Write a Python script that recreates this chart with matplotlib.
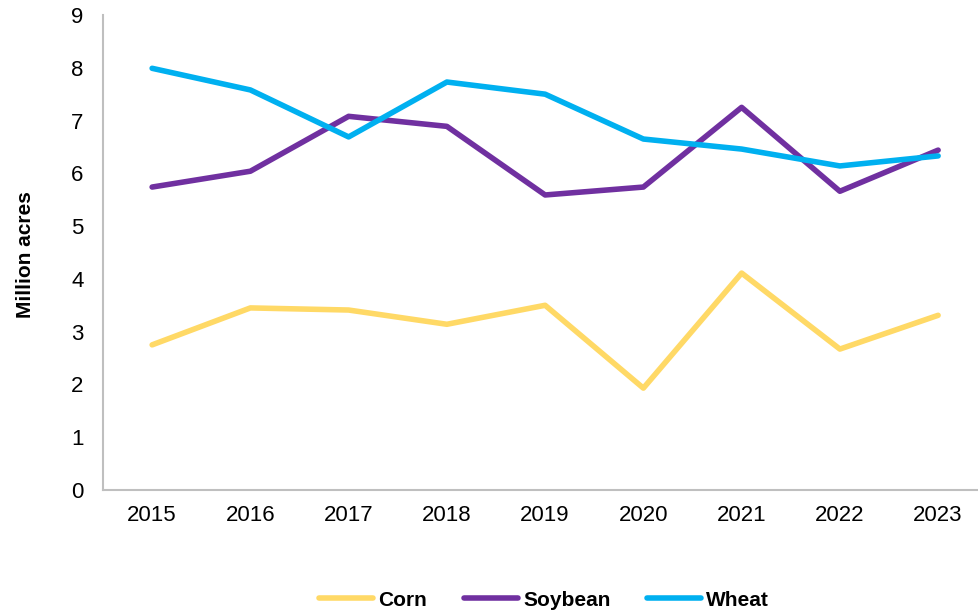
import matplotlib
matplotlib.use('Agg')
import matplotlib.pyplot as plt

plt.rcParams['font.family'] = ['Liberation Sans', 'DejaVu Sans']

years = ['2015', '2016', '2017', '2018', '2019', '2020', '2021', '2022', '2023']
corn = [2.75, 3.45, 3.41, 3.14, 3.50, 1.93, 4.11, 2.67, 3.31]
soybean = [5.74, 6.04, 7.08, 6.89, 5.59, 5.74, 7.25, 5.66, 6.44]
wheat = [7.99, 7.58, 6.69, 7.73, 7.50, 6.65, 6.46, 6.14, 6.33]

W, H = 979, 612
fig = plt.figure(figsize=(W / 100, H / 100), dpi=100)
ax = fig.add_axes([103 / W, 1 - 490 / H, (W - 103) / W, (490 - 15) / H])

x = list(range(len(years)))
ax.plot(x, corn, color='#FFD966', lw=4, label='Corn', solid_capstyle='round')
ax.plot(x, soybean, color='#7030A0', lw=4, label='Soybean', solid_capstyle='round')
ax.plot(x, wheat, color='#00B0F0', lw=4, label='Wheat', solid_capstyle='round')

ax.set_xlim(-0.5, -0.5 + (W - 103) / 98.25)
ax.set_ylim(0, 9)
ax.set_xticks(x)
ax.set_xticklabels(years)
ax.set_yticks(range(10))
ax.tick_params(length=0, labelsize=16, pad=11)
ax.tick_params(axis='y', pad=14)

for s in ['top', 'right']:
    ax.spines[s].set_visible(False)
for s in ['left', 'bottom']:
    ax.spines[s].set_color('#BFBFBF')
    ax.spines[s].set_linewidth(1.5)

fig.text(26 / W, 1 - 255 / H, 'Million acres', rotation=90, fontsize=15,
         fontweight='bold', ha='center', va='center')

fig.legend(loc='center', bbox_to_anchor=(544 / W, 1 - 600 / H), ncol=3,
           frameon=False, handlelength=2.6, handletextpad=0.25,
           columnspacing=1.75, prop={'size': 15, 'weight': 'bold'})

fig.savefig('out.png', dpi=100)
